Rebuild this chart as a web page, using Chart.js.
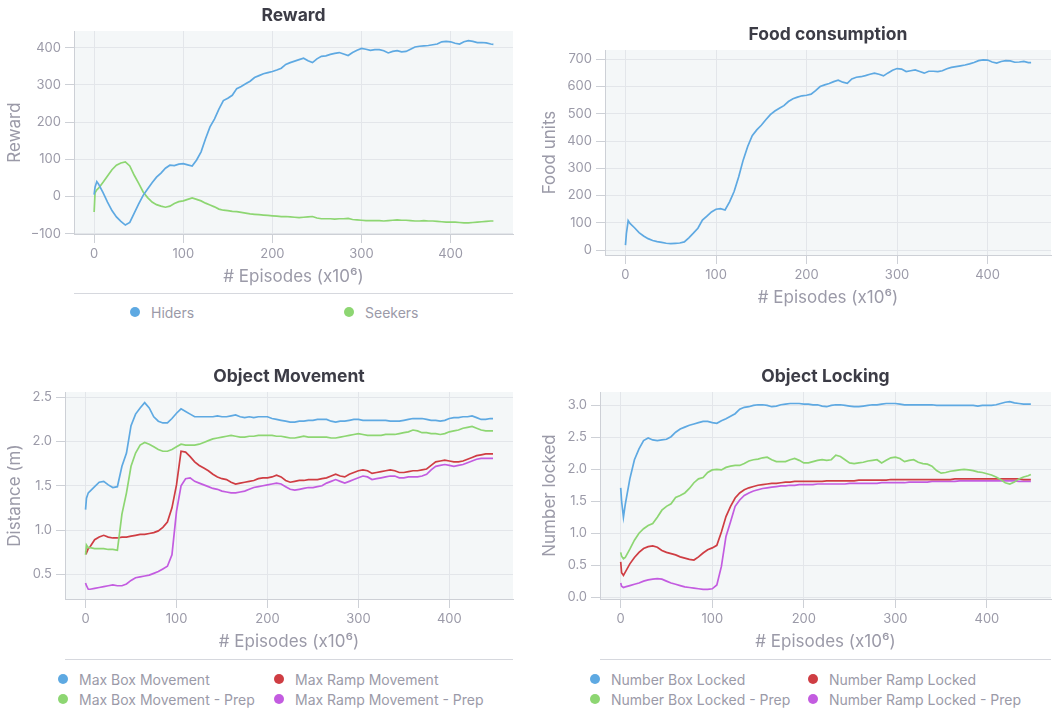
<!DOCTYPE html>
<html>
<head>
<meta charset="utf-8">
<script src="https://cdn.jsdelivr.net/npm/chart.js@4.4.1/dist/chart.umd.min.js"></script>
<style>
    body { margin: 0; width: 1057px; height: 710px; background: #fff; font-family: Inter, sans-serif; position: relative; overflow: hidden; }
    .box { position: absolute; }
    .title { position: absolute; font-weight: 700; font-size: 17.5px; color: #3c3c46; transform: translate(-50%, -50%); white-space: nowrap; }
    .sep { position: absolute; height: 0; border-top: 1px solid #d6d8de; }
    .leg { position: absolute; font-size: 14px; color: #9b9aa8; white-space: nowrap; transform: translateY(-50%); }
    .dot { position: absolute; width: 10px; height: 10px; border-radius: 50%; transform: translate(-50%, -50%); }
</style>
</head>
<body>
<script>
// episodes (x10^6), shared by every series
const episodes = [
    0, 1, 3, 5, 10, 15, 20, 25, 30, 35,
    40, 45, 50, 55, 60, 65, 70, 75, 80, 85,
    90, 95, 100, 105, 110, 115, 120, 125, 130, 135,
    140, 145, 150, 155, 160, 165, 170, 175, 180, 185,
    190, 195, 200, 205, 210, 215, 220, 225, 230, 235,
    240, 245, 250, 255, 260, 265, 270, 275, 280, 285,
    290, 295, 300, 305, 310, 315, 320, 325, 330, 335,
    340, 345, 350, 355, 360, 365, 370, 375, 380, 385,
    390, 395, 400, 405, 410, 415, 420, 425, 430, 435,
    440, 445, 448
];
const xTicks = [0, 100, 200, 300, 400];

// Reward
const hiders = [
    5, 25, 40, 33, 10, -15, -38, -55, -67, -77,
    -70, -45, -20, 3, 20, 37, 52, 63, 76, 84,
    83, 87, 88, 85, 82, 98, 120, 155, 187, 208,
    235, 258, 264, 272, 290, 296, 303, 310, 320, 325,
    330, 333, 336, 340, 345, 355, 360, 364, 368, 372,
    365, 360, 370, 377, 378, 382, 385, 387, 383, 379,
    387, 393, 398, 396, 393, 395, 395, 392, 386, 390,
    392, 389, 390, 396, 402, 404, 405, 406, 408, 410,
    416, 417, 416, 412, 410, 416, 419, 417, 414, 414,
    413, 410, 409
];
const seekers = [
    -42, 10, 18, 22, 38, 55, 72, 84, 90, 93,
    82, 57, 35, 12, -3, -15, -22, -26, -29, -26,
    -19, -14, -12, -8, -4, -8, -12, -18, -23, -28,
    -34, -37, -38, -40, -41, -43, -45, -47, -48, -49,
    -50, -51, -52, -53, -54, -54, -55, -56, -57, -56,
    -55, -54, -58, -60, -60, -60, -61, -60, -60, -59,
    -62, -63, -64, -65, -65, -65, -65, -66, -65, -64,
    -63, -64, -64, -65, -66, -66, -65, -66, -66, -67,
    -68, -69, -69, -69, -70, -71, -71, -70, -69, -68,
    -67, -66, -66
];
const rewardTicks = [-100, 0, 100, 200, 300, 400];

// Food consumption
const foodUnits = [
    18, 60, 108, 98, 82, 64, 52, 42, 35, 31,
    28, 25, 24, 25, 26, 30, 45, 62, 80, 110,
    125, 140, 150, 152, 147, 177, 215, 268, 330, 380,
    420, 441, 458, 478, 497, 510, 520, 530, 545, 555,
    561, 566, 568, 572, 585, 600, 606, 611, 618, 623,
    616, 612, 628, 634, 636, 640, 645, 649, 645, 639,
    650, 660, 666, 664, 655, 658, 661, 655, 649, 656,
    656, 655, 658, 665, 670, 673, 676, 679, 683, 688,
    695, 698, 697, 690, 686, 692, 695, 694, 689, 690,
    692, 688, 688
];
const foodTicks = [0, 100, 200, 300, 400, 500, 600, 700];

// Object Movement
const maxBoxMove = [
    1.23, 1.36, 1.42, 1.44, 1.49, 1.54, 1.55, 1.51, 1.48, 1.49,
    1.72, 1.87, 2.18, 2.31, 2.38, 2.44, 2.38, 2.28, 2.23, 2.21,
    2.21, 2.26, 2.32, 2.37, 2.34, 2.31, 2.28, 2.28, 2.28, 2.28,
    2.28, 2.29, 2.28, 2.28, 2.29, 2.30, 2.28, 2.27, 2.28, 2.27,
    2.28, 2.28, 2.28, 2.26, 2.25, 2.24, 2.23, 2.22, 2.22, 2.23,
    2.23, 2.24, 2.24, 2.25, 2.25, 2.25, 2.23, 2.22, 2.23, 2.23,
    2.24, 2.25, 2.25, 2.24, 2.24, 2.24, 2.24, 2.24, 2.24, 2.23,
    2.23, 2.23, 2.24, 2.25, 2.26, 2.26, 2.26, 2.25, 2.24, 2.24,
    2.23, 2.24, 2.26, 2.27, 2.27, 2.28, 2.28, 2.29, 2.27, 2.25,
    2.25, 2.26, 2.26
];
const maxBoxMovePrep = [
    0.72, 0.83, 0.80, 0.80, 0.79, 0.79, 0.79, 0.78, 0.78, 0.77,
    1.18, 1.42, 1.72, 1.87, 1.96, 1.99, 1.97, 1.94, 1.91, 1.89,
    1.89, 1.91, 1.94, 1.97, 1.96, 1.96, 1.96, 1.97, 1.99, 2.01,
    2.03, 2.04, 2.05, 2.06, 2.07, 2.06, 2.05, 2.05, 2.06, 2.06,
    2.07, 2.07, 2.07, 2.07, 2.06, 2.06, 2.05, 2.04, 2.04, 2.05,
    2.06, 2.05, 2.05, 2.05, 2.05, 2.05, 2.04, 2.04, 2.05, 2.06,
    2.07, 2.08, 2.09, 2.08, 2.07, 2.07, 2.07, 2.07, 2.08, 2.08,
    2.08, 2.09, 2.10, 2.11, 2.13, 2.12, 2.10, 2.10, 2.09, 2.09,
    2.08, 2.09, 2.11, 2.12, 2.13, 2.15, 2.16, 2.17, 2.15, 2.13,
    2.12, 2.12, 2.12
];
const maxRampMove = [
    0.76, 0.74, 0.79, 0.81, 0.89, 0.92, 0.94, 0.92, 0.91, 0.91,
    0.92, 0.92, 0.93, 0.94, 0.95, 0.95, 0.96, 0.97, 0.99, 1.03,
    1.09, 1.25, 1.51, 1.89, 1.88, 1.83, 1.77, 1.73, 1.70, 1.67,
    1.63, 1.60, 1.58, 1.57, 1.54, 1.52, 1.53, 1.54, 1.55, 1.56,
    1.58, 1.59, 1.59, 1.60, 1.62, 1.60, 1.56, 1.54, 1.55, 1.56,
    1.56, 1.57, 1.57, 1.57, 1.58, 1.59, 1.61, 1.63, 1.61, 1.60,
    1.63, 1.65, 1.67, 1.68, 1.67, 1.64, 1.65, 1.66, 1.67, 1.68,
    1.67, 1.65, 1.65, 1.66, 1.67, 1.67, 1.68, 1.69, 1.73, 1.77,
    1.78, 1.79, 1.78, 1.77, 1.77, 1.78, 1.80, 1.82, 1.84, 1.85,
    1.86, 1.86, 1.86
];
const maxRampMovePrep = [
    0.40, 0.37, 0.33, 0.33, 0.34, 0.35, 0.36, 0.37, 0.38, 0.37,
    0.37, 0.39, 0.43, 0.46, 0.47, 0.48, 0.49, 0.51, 0.53, 0.56,
    0.59, 0.72, 1.21, 1.50, 1.58, 1.59, 1.55, 1.53, 1.51, 1.49,
    1.47, 1.46, 1.44, 1.43, 1.42, 1.42, 1.43, 1.44, 1.46, 1.48,
    1.49, 1.50, 1.51, 1.52, 1.53, 1.52, 1.49, 1.46, 1.45, 1.46,
    1.47, 1.48, 1.48, 1.49, 1.50, 1.53, 1.55, 1.57, 1.55, 1.53,
    1.55, 1.57, 1.59, 1.61, 1.60, 1.57, 1.58, 1.59, 1.60, 1.61,
    1.61, 1.59, 1.59, 1.60, 1.60, 1.60, 1.61, 1.63, 1.68, 1.72,
    1.73, 1.74, 1.73, 1.72, 1.73, 1.74, 1.76, 1.78, 1.80, 1.81,
    1.81, 1.81, 1.81
];
const movementTicks = [0.5, 1.0, 1.5, 2.0, 2.5];

// Object Locking
const boxLocked = [
    1.71, 1.50, 1.25, 1.45, 1.85, 2.15, 2.32, 2.45, 2.49, 2.46,
    2.45, 2.46, 2.47, 2.51, 2.58, 2.63, 2.66, 2.69, 2.71, 2.73,
    2.75, 2.75, 2.73, 2.72, 2.76, 2.79, 2.83, 2.87, 2.94, 2.97,
    2.98, 3.00, 3.01, 3.01, 3.00, 2.98, 2.99, 3.01, 3.02, 3.03,
    3.03, 3.03, 3.02, 3.02, 3.01, 3.01, 2.99, 2.98, 3.00, 3.01,
    3.01, 3.00, 2.99, 2.98, 2.98, 2.99, 3.00, 3.01, 3.01, 3.02,
    3.03, 3.03, 3.03, 3.02, 3.01, 3.01, 3.01, 3.01, 3.01, 3.01,
    3.01, 3.00, 3.00, 3.00, 3.00, 3.00, 3.00, 3.00, 3.00, 3.00,
    2.99, 3.00, 3.00, 3.00, 3.01, 3.03, 3.05, 3.06, 3.04, 3.03,
    3.02, 3.02, 3.02
];
const boxLockedPrep = [
    0.70, 0.64, 0.60, 0.62, 0.75, 0.89, 1.00, 1.07, 1.12, 1.15,
    1.25, 1.36, 1.42, 1.46, 1.56, 1.59, 1.63, 1.70, 1.79, 1.85,
    1.87, 1.95, 1.99, 2.00, 1.99, 2.03, 2.05, 2.06, 2.06, 2.09,
    2.13, 2.15, 2.16, 2.18, 2.19, 2.15, 2.12, 2.12, 2.12, 2.15,
    2.17, 2.14, 2.10, 2.10, 2.12, 2.14, 2.15, 2.14, 2.15, 2.22,
    2.20, 2.15, 2.10, 2.09, 2.10, 2.11, 2.13, 2.14, 2.15, 2.10,
    2.14, 2.18, 2.19, 2.17, 2.12, 2.14, 2.15, 2.11, 2.09, 2.08,
    2.05, 1.98, 1.94, 1.95, 1.97, 1.98, 1.99, 2.00, 1.99, 1.98,
    1.96, 1.95, 1.93, 1.91, 1.88, 1.84, 1.79, 1.77, 1.80, 1.85,
    1.88, 1.90, 1.92
];
const rampLocked = [
    0.55, 0.38, 0.34, 0.39, 0.52, 0.62, 0.70, 0.76, 0.79, 0.80,
    0.78, 0.73, 0.70, 0.68, 0.66, 0.63, 0.61, 0.59, 0.58, 0.63,
    0.69, 0.74, 0.77, 0.81, 1.02, 1.26, 1.42, 1.55, 1.63, 1.68,
    1.71, 1.73, 1.75, 1.76, 1.77, 1.78, 1.78, 1.79, 1.80, 1.80,
    1.81, 1.81, 1.81, 1.81, 1.81, 1.81, 1.81, 1.82, 1.82, 1.82,
    1.82, 1.82, 1.82, 1.82, 1.83, 1.83, 1.83, 1.83, 1.83, 1.83,
    1.83, 1.84, 1.84, 1.84, 1.84, 1.84, 1.84, 1.84, 1.84, 1.84,
    1.84, 1.84, 1.84, 1.84, 1.84, 1.85, 1.85, 1.85, 1.85, 1.85,
    1.85, 1.85, 1.85, 1.85, 1.85, 1.85, 1.85, 1.85, 1.85, 1.85,
    1.84, 1.84, 1.84
];
const rampLockedPrep = [
    0.22, 0.17, 0.15, 0.16, 0.18, 0.20, 0.22, 0.25, 0.27, 0.28,
    0.29, 0.28, 0.25, 0.22, 0.20, 0.18, 0.16, 0.15, 0.14, 0.13,
    0.12, 0.12, 0.13, 0.19, 0.48, 0.95, 1.18, 1.42, 1.52, 1.59,
    1.63, 1.66, 1.68, 1.70, 1.71, 1.72, 1.73, 1.74, 1.74, 1.75,
    1.75, 1.76, 1.76, 1.76, 1.76, 1.77, 1.77, 1.77, 1.77, 1.77,
    1.77, 1.77, 1.78, 1.78, 1.78, 1.78, 1.78, 1.78, 1.78, 1.79,
    1.79, 1.79, 1.79, 1.79, 1.79, 1.80, 1.80, 1.80, 1.80, 1.80,
    1.81, 1.81, 1.81, 1.81, 1.81, 1.81, 1.82, 1.82, 1.82, 1.82,
    1.82, 1.82, 1.82, 1.82, 1.82, 1.82, 1.82, 1.82, 1.82, 1.81,
    1.81, 1.81, 1.81
];
const lockingTicks = [0, 0.5, 1.0, 1.5, 2.0, 2.5, 3.0];

const BLUE = '#5ea9e2';
const GREEN = '#8dd672';
const RED = '#cf3d43';
const PURPLE = '#c35ce0';

const plotBg = {
    id: 'plotBg',
    beforeDraw(chart) {
        const { ctx, chartArea: a } = chart;
        ctx.save();
        ctx.fillStyle = '#f4f7f8';
        ctx.fillRect(a.left, a.top, a.right - a.left, a.bottom - a.top);
        ctx.restore();
    }
};

const tickFont = { family: 'Inter', size: 13 };
const axisTitleFont = { family: 'Inter', size: 17 };
const greyText = '#9b9aa8';

function addDiv(cls, css, text) {
    const d = document.createElement('div');
    d.className = cls;
    Object.assign(d.style, css);
    if (text) d.textContent = text;
    document.body.appendChild(d);
    return d;
}

function makePanel(p) {
    const wrap = addDiv('box', { left: p.left + 'px', top: p.top + 'px', width: p.w + 'px', height: p.h + 'px' });
    const canvas = document.createElement('canvas');
    wrap.appendChild(canvas);

    new Chart(canvas, {
        type: 'line',
        data: {
            datasets: p.series.map(s => ({
                label: s.name,
                data: episodes.map((x, i) => ({ x: x, y: s.values[i] })),
                borderColor: s.color,
                borderWidth: 1.7,
                pointRadius: 0,
                tension: 0,
                fill: false
            }))
        },
        options: {
            responsive: true,
            maintainAspectRatio: false,
            animation: false,
            events: [],
            layout: { padding: { left: 0, top: p.plotTop, right: p.w - p.plotRight, bottom: 0 } },
            plugins: { legend: { display: false }, tooltip: { enabled: false } },
            scales: {
                x: {
                    type: 'linear',
                    min: -22.6,
                    max: 470,
                    afterBuildTicks: s => { s.ticks = xTicks.map(v => ({ value: v })); },
                    afterFit: s => { s.height = p.h - p.plotBottom; },
                    grid: { color: '#e3e6ea', tickColor: '#cdd0d6', tickLength: 9 },
                    border: { color: '#cdd0d6', width: 1 },
                    ticks: { font: tickFont, color: greyText, padding: 3, maxRotation: 0 },
                    title: { display: true, text: '# Episodes (x10\u2076)', font: axisTitleFont, color: greyText, padding: { top: 0, bottom: 2 } }
                },
                y: {
                    min: p.yMin,
                    max: p.yMax,
                    afterBuildTicks: s => { s.ticks = p.yTicks.map(v => ({ value: v })); },
                    afterFit: s => { s.width = p.plotLeft; },
                    grid: { color: '#e3e6ea', tickColor: '#cdd0d6', tickLength: 9 },
                    border: { color: '#cdd0d6', width: 1 },
                    ticks: { font: tickFont, color: greyText, padding: 4, callback: p.fmt },
                    title: { display: true, text: p.yTitle, font: axisTitleFont, color: greyText, padding: { top: p.yTitlePad, bottom: 0 } }
                }
            }
        },
        plugins: [plotBg]
    });

    addDiv('title', { left: (p.left + (p.plotLeft + p.plotRight) / 2) + 'px', top: p.titleY + 'px' }, p.title);

    if (p.legend) {
        addDiv('sep', { left: (p.left + p.plotLeft) + 'px', top: p.legend.sepY + 'px', width: (p.plotRight - p.plotLeft) + 'px' });
        p.series.forEach((s, i) => {
            const pos = p.legend.spots[i];
            addDiv('dot', { left: pos[0] + 'px', top: pos[1] + 'px', background: s.color });
            addDiv('leg', { left: (pos[0] + 16) + 'px', top: pos[1] + 'px' }, s.name);
        });
    }
}

const signed = v => v < 0 ? '\u2212' + Math.abs(v) : String(v);
const oneDec = v => v.toFixed(1);

makePanel({
    left: 0, top: 0, w: 530, h: 289,
    plotLeft: 74, plotTop: 31, plotRight: 513, plotBottom: 234,
    yMin: -101, yMax: 445, yTicks: rewardTicks, fmt: signed,
    yTitle: 'Reward', yTitlePad: 5, title: 'Reward', titleY: 14,
    series: [
        { name: 'Hiders', values: hiders, color: BLUE },
        { name: 'Seekers', values: seekers, color: GREEN }
    ],
    legend: { sepY: 293, spots: [[135, 312], [349, 312]] }
});

makePanel({
    left: 530, top: 0, w: 527, h: 310,
    plotLeft: 75, plotTop: 50, plotRight: 521, plotBottom: 255,
    yMin: -18, yMax: 734, yTicks: foodTicks, fmt: signed,
    yTitle: 'Food units', yTitlePad: 10, title: 'Food consumption', titleY: 33,
    series: [
        { name: 'Food', values: foodUnits, color: BLUE }
    ]
});

makePanel({
    left: 0, top: 355, w: 530, h: 299,
    plotLeft: 65, plotTop: 37, plotRight: 513, plotBottom: 244,
    yMin: 0.22, yMax: 2.56, yTicks: movementTicks, fmt: oneDec,
    yTitle: 'Distance (m)', yTitlePad: 5, title: 'Object Movement', titleY: 375,
    series: [
        { name: 'Max Box Movement', values: maxBoxMove, color: BLUE },
        { name: 'Max Box Movement - Prep', values: maxBoxMovePrep, color: GREEN },
        { name: 'Max Ramp Movement', values: maxRampMove, color: RED },
        { name: 'Max Ramp Movement - Prep', values: maxRampMovePrep, color: PURPLE }
    ],
    legend: { sepY: 659, spots: [[63, 679], [63, 699], [279, 679], [279, 699]] }
});

makePanel({
    left: 530, top: 355, w: 527, h: 299,
    plotLeft: 70, plotTop: 37, plotRight: 521, plotBottom: 244,
    yMin: -0.03, yMax: 3.21, yTicks: lockingTicks, fmt: oneDec,
    yTitle: 'Number locked', yTitlePad: 10, title: 'Object Locking', titleY: 375,
    series: [
        { name: 'Number Box Locked', values: boxLocked, color: BLUE },
        { name: 'Number Box Locked - Prep', values: boxLockedPrep, color: GREEN },
        { name: 'Number Ramp Locked', values: rampLocked, color: RED },
        { name: 'Number Ramp Locked - Prep', values: rampLockedPrep, color: PURPLE }
    ],
    legend: { sepY: 659, spots: [[595, 679], [595, 699], [813, 679], [813, 699]] }
});
</script>
</body>
</html>
